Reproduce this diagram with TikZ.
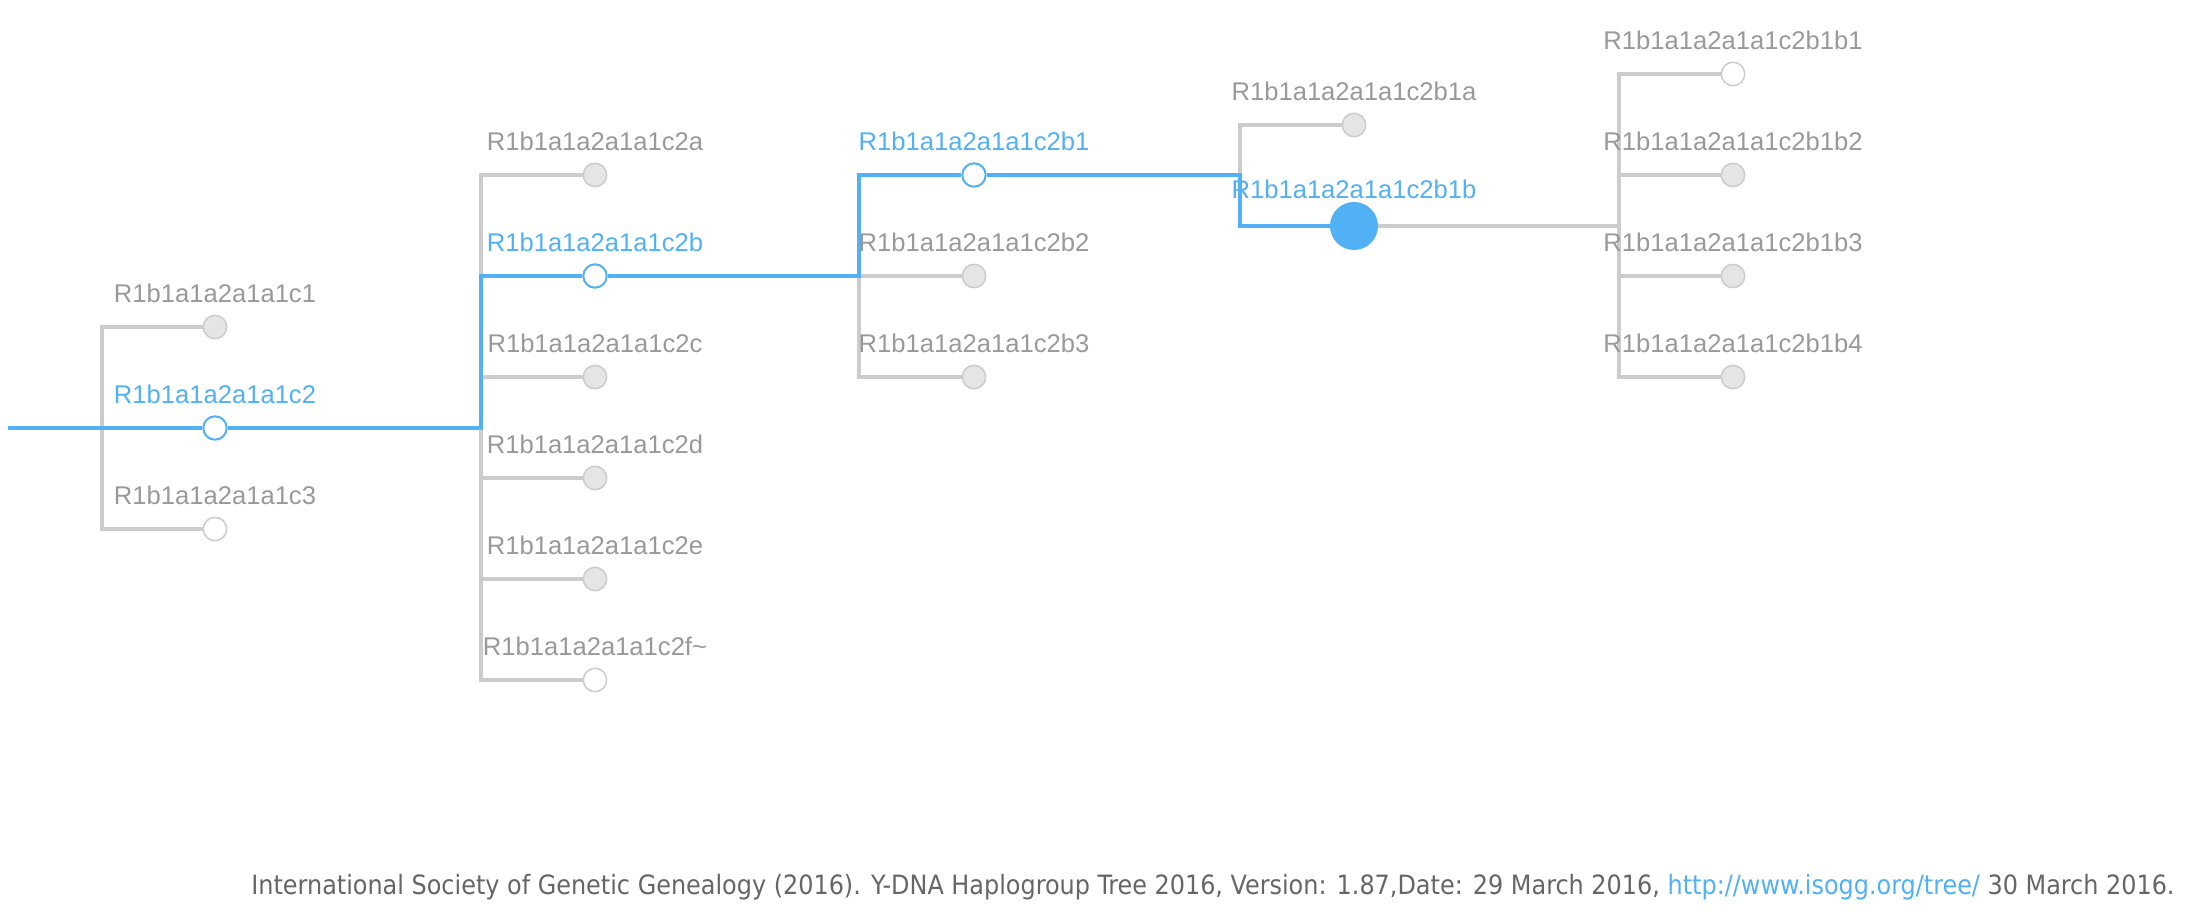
\documentclass[tikz,border=0pt]{standalone}
\usepackage{fontspec}
\setmainfont{Liberation Sans}
\newfontfamily\notefont{DejaVu Sans Condensed}
\definecolor{pathblue}{HTML}{52B0F5}
\definecolor{linegray}{HTML}{CCCCCC}
\definecolor{dotgray}{HTML}{E5E5E5}
\definecolor{labelgray}{HTML}{999999}
\definecolor{notegray}{HTML}{666666}
\tikzset{
  branch/.style={draw=linegray, line width=2pt},
  onpath/.style={draw=pathblue, line width=2pt},
  leaf/.style={circle, draw=linegray, line width=0.75pt, fill=dotgray,
    minimum size=11.7pt, inner sep=0pt},
  hollow/.style={leaf, fill=white},
  hollowblue/.style={leaf, draw=pathblue, fill=white, line width=1pt},
  current/.style={circle, fill=pathblue, minimum size=24pt, inner sep=0pt},
  lbl/.style={text=labelgray, font=\fontsize{12.8}{14}\selectfont, inner sep=0pt},
  lblblue/.style={lbl, text=pathblue},
  note/.style={text=notegray, font=\notefont\fontsize{13.3}{15}\selectfont, inner sep=0pt},
}
\begin{document}
\begin{tikzpicture}[x=0.5pt, y=-0.5pt]
  \useasboundingbox (0,0) rectangle (2205,921);
  % haplogroup nodes
  \coordinate (root) at (8,428);
  \node[leaf]       (c1)     at (215,327) {};
  \node[hollowblue] (c2)     at (215,428) {};
  \node[hollow]     (c3)     at (215,529) {};
  \node[leaf]       (c2a)    at (595,175) {};
  \node[hollowblue] (c2b)    at (595,276) {};
  \node[leaf]       (c2c)    at (595,377) {};
  \node[leaf]       (c2d)    at (595,478) {};
  \node[leaf]       (c2e)    at (595,579) {};
  \node[hollow]     (c2f)    at (595,680) {};
  \node[hollowblue] (c2b1)   at (974,175) {};
  \node[leaf]       (c2b2)   at (974,276) {};
  \node[leaf]       (c2b3)   at (974,377) {};
  \node[leaf]       (c2b1a)  at (1354,125) {};
  \node[current]    (c2b1b)  at (1354,226) {};
  \node[hollow]     (c2b1b1) at (1733,74) {};
  \node[leaf]       (c2b1b2) at (1733,175) {};
  \node[leaf]       (c2b1b3) at (1733,276) {};
  \node[leaf]       (c2b1b4) at (1733,377) {};
  % branch points
  \coordinate (j1) at (102,428);
  \coordinate (j2) at (481,428);
  \coordinate (j3) at (859,276);
  \coordinate (j4) at (1240,175);
  \coordinate (j5) at (1619,226);
  % grey branches
  \draw[branch] (c1) -| (j1) |- (c3);
  \draw[branch] (c2a) -| (j2) |- (c2f);
  \draw[branch] (j2 |- c2c) -- (c2c);
  \draw[branch] (j2 |- c2d) -- (c2d);
  \draw[branch] (j2 |- c2e) -- (c2e);
  \draw[branch] (c2b1) -| (j3) |- (c2b3);
  \draw[branch] (j3) -- (c2b2);
  \draw[branch] (c2b1a) -| (j4);
  \draw[branch] (c2b1b) -- (j5);
  \draw[branch] (c2b1b1) -| (j5 |- c2b1b4) -- (c2b1b4);
  \draw[branch] (j5 |- c2b1b2) -- (c2b1b2);
  \draw[branch] (j5 |- c2b1b3) -- (c2b1b3);
  % path to the selected haplogroup
  \draw[onpath] (root) -- (c2);
  \draw[onpath] (c2) -| (j2 |- c2b) -- (c2b);
  \draw[onpath] (c2b) -| (j3 |- c2b1) -- (c2b1);
  \draw[onpath] (c2b1) -| (j4 |- c2b1b) -- (c2b1b);
  % labels
  \node[lbl]     (t-c1)     at (215,293) {R1b1a1a2a1a1c1};
  \node[lblblue] (t-c2)     at (215,394) {R1b1a1a2a1a1c2};
  \node[lbl]     (t-c3)     at (215,495) {R1b1a1a2a1a1c3};
  \node[lbl]     (t-c2a)    at (595,141) {R1b1a1a2a1a1c2a};
  \node[lblblue] (t-c2b)    at (595,242) {R1b1a1a2a1a1c2b};
  \node[lbl]     (t-c2c)    at (595,343) {R1b1a1a2a1a1c2c};
  \node[lbl]     (t-c2d)    at (595,444) {R1b1a1a2a1a1c2d};
  \node[lbl]     (t-c2e)    at (595,545) {R1b1a1a2a1a1c2e};
  \node[lbl]     (t-c2f)    at (595,646) {R1b1a1a2a1a1c2f\textasciitilde};
  \node[lblblue] (t-c2b1)   at (974,141) {R1b1a1a2a1a1c2b1};
  \node[lbl]     (t-c2b2)   at (974,242) {R1b1a1a2a1a1c2b2};
  \node[lbl]     (t-c2b3)   at (974,343) {R1b1a1a2a1a1c2b3};
  \node[lbl]     (t-c2b1a)  at (1354,91) {R1b1a1a2a1a1c2b1a};
  \node[lblblue] (t-c2b1b)  at (1354,189) {R1b1a1a2a1a1c2b1b};
  \node[lbl]     (t-c2b1b1) at (1733,40) {R1b1a1a2a1a1c2b1b1};
  \node[lbl]     (t-c2b1b2) at (1733,141) {R1b1a1a2a1a1c2b1b2};
  \node[lbl]     (t-c2b1b3) at (1733,242) {R1b1a1a2a1a1c2b1b3};
  \node[lbl]     (t-c2b1b4) at (1733,343) {R1b1a1a2a1a1c2b1b4};
  % source
  \node[note] (src) at (1213,887) {International Society of Genetic Genealogy (2016). Y-DNA Haplogroup Tree 2016, Version: 1.87,Date: 29 March 2016, \textcolor{pathblue}{http://www.isogg.org/tree/} 30 March 2016.};
\end{tikzpicture}
\end{document}
